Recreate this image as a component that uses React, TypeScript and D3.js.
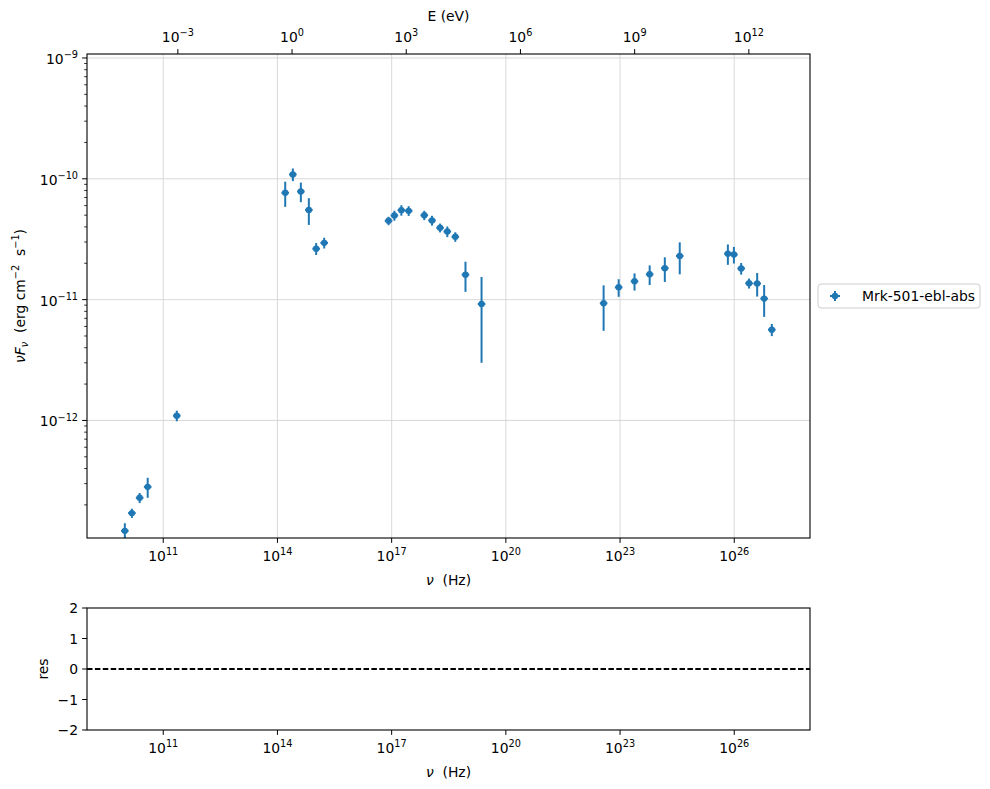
import { useEffect, useRef } from 'react';
import * as d3 from 'd3';

// SED points: frequency (Hz), nuFnu and its symmetric error (erg cm^-2 s^-1)
const nu = [
  9.8e9, 1.5e10, 2.4e10, 3.9e10, 2.27e11,
  1.6e14, 2.54e14, 4.12e14, 6.68e14, 1.04e15, 1.69e15,
  8.3e16, 1.18e17, 1.8e17, 2.8e17, 7.2e17, 1.15e18, 1.87e18, 2.9e18, 4.7e18, 8.7e18, 2.3e19,
  3.7e22, 9.2e22, 2.4e23, 6.0e23, 1.5e24, 3.7e24,
  6.8e25, 9.8e25, 1.52e26, 2.45e26, 4.0e26, 6.1e26, 9.7e26,
];
const nuFnu = [
  1.22e-13, 1.71e-13, 2.29e-13, 2.82e-13, 1.094e-12,
  7.66e-11, 1.087e-10, 7.85e-11, 5.53e-11, 2.64e-11, 2.95e-11,
  4.49e-11, 4.97e-11, 5.5e-11, 5.43e-11, 4.99e-11, 4.52e-11, 3.93e-11, 3.66e-11, 3.31e-11, 1.61e-11, 9.2e-12,
  9.32e-12, 1.265e-11, 1.418e-11, 1.62e-11, 1.82e-11, 2.3e-11,
  2.4e-11, 2.36e-11, 1.81e-11, 1.365e-11, 1.36e-11, 1.02e-11, 5.64e-12,
];
const nuFnuErr = [
  1.9e-14, 1.5e-14, 2.2e-14, 5.3e-14, 1.1e-13,
  1.8e-11, 1.3e-11, 1.45e-11, 1.38e-11, 3.0e-12, 3.0e-12,
  3.6e-12, 4.7e-12, 5.5e-12, 5.0e-12, 4.4e-12, 4.2e-12, 3.3e-12, 3.7e-12, 3.0e-12, 4.5e-12, 6.2e-12,
  3.8e-12, 2.1e-12, 2.3e-12, 3.0e-12, 4.2e-12, 6.8e-12,
  4.6e-12, 3.7e-12, 2.0e-12, 1.3e-12, 3.0e-12, 3.0e-12, 6.5e-13,
];
const NU_ERR_DEX = 0.1; // half-width of frequency bins in dex

const nuTicks = [1e11, 1e14, 1e17, 1e20, 1e23, 1e26];
const eTicks = [1e-3, 1e0, 1e3, 1e6, 1e9, 1e12];
const fluxTicks = [1e-12, 1e-11, 1e-10, 1e-9];
const resTicks = [-2, -1, 0, 1, 2];
const PLANCK_EV_S = 4.135667696e-15;
const SERIES = 'Mrk-501-ebl-abs';

const W = 990;
const H = 789;
const MAIN = { left: 87, right: 810, top: 54, bottom: 538 };
const RES = { left: 87, right: 810, top: 608, bottom: 730 };
const BLUE = '#1f77b4';
const FS = 13.9;
const FONT = '"DejaVu Sans", sans-serif';

function powLabel(sel: any, exp: number) {
  sel.append('tspan').text('10');
  sel
    .append('tspan')
    .attr('font-size', FS * 0.7)
    .attr('dy', -FS * 0.42)
    .text(exp < 0 ? `\u2212${-exp}` : `${exp}`);
}

export default function App() {
  const svgRef = useRef<SVGSVGElement>(null);

  useEffect(() => {
    if (!svgRef.current) return;
    const svg = d3.select(svgRef.current);
    svg.selectAll('*').remove();

    const x = d3
      .scaleLog()
      .domain([10 ** 8.997, 10 ** 27.99])
      .range([MAIN.left, MAIN.right]);
    const xE = d3
      .scaleLog()
      .domain(x.domain().map((v) => v * PLANCK_EV_S))
      .range([MAIN.left, MAIN.right]);
    const y = d3
      .scaleLog()
      .domain([10 ** -12.973, 10 ** -8.967])
      .range([MAIN.bottom, MAIN.top]);
    const yRes = d3.scaleLinear().domain([-2, 2]).range([RES.bottom, RES.top]);

    svg
      .append('defs')
      .append('clipPath')
      .attr('id', 'main-clip')
      .append('rect')
      .attr('x', MAIN.left)
      .attr('y', MAIN.top)
      .attr('width', MAIN.right - MAIN.left)
      .attr('height', MAIN.bottom - MAIN.top);

    // Grid
    const grid = svg.append('g').attr('stroke', '#d5d5d5').attr('stroke-width', 0.9);
    nuTicks.forEach((t) => {
      grid.append('line').attr('x1', x(t)).attr('x2', x(t)).attr('y1', MAIN.top).attr('y2', MAIN.bottom);
    });
    fluxTicks.forEach((t) => {
      grid.append('line').attr('x1', MAIN.left).attr('x2', MAIN.right).attr('y1', y(t)).attr('y2', y(t));
    });

    // Data
    const data = nu.map((v, i) => ({ nu: v, f: nuFnu[i], e: nuFnuErr[i] }));
    const dg = svg.append('g').attr('clip-path', 'url(#main-clip)');
    data.forEach((d) => {
      const cx = x(d.nu);
      const cy = y(d.f);
      dg.append('line')
        .attr('x1', cx)
        .attr('x2', cx)
        .attr('y1', y(d.f + d.e))
        .attr('y2', y(Math.max(d.f - d.e, 1e-20)))
        .attr('stroke', BLUE)
        .attr('stroke-width', 2);
      dg.append('line')
        .attr('x1', x(d.nu / 10 ** NU_ERR_DEX))
        .attr('x2', x(d.nu * 10 ** NU_ERR_DEX))
        .attr('y1', cy)
        .attr('y2', cy)
        .attr('stroke', BLUE)
        .attr('stroke-width', 2);
      dg.append('circle').attr('cx', cx).attr('cy', cy).attr('r', 3.2).attr('fill', BLUE);
    });

    // Spines
    const frame = (r: typeof MAIN) =>
      svg
        .append('rect')
        .attr('x', r.left)
        .attr('y', r.top)
        .attr('width', r.right - r.left)
        .attr('height', r.bottom - r.top)
        .attr('fill', 'none')
        .attr('stroke', '#000')
        .attr('stroke-width', 1.1);
    frame(MAIN);

    const axes = svg.append('g').attr('font-family', FONT).attr('font-size', FS).attr('fill', '#000');
    const tick = (x1: number, y1: number, x2: number, y2: number, w = 1) =>
      axes.append('line').attr('x1', x1).attr('y1', y1).attr('x2', x2).attr('y2', y2).attr('stroke', '#000').attr('stroke-width', w);

    // Bottom axes (main and residual)
    [MAIN.bottom, RES.bottom].forEach((yb) => {
      nuTicks.forEach((t) => {
        tick(x(t), yb, x(t), yb + 4.9);
        const tx = axes.append('text').attr('x', x(t)).attr('y', yb + 23).attr('text-anchor', 'middle');
        powLabel(tx, Math.round(Math.log10(t)));
      });
      const lab = axes
        .append('text')
        .attr('x', (MAIN.left + MAIN.right) / 2)
        .attr('y', yb + 47)
        .attr('text-anchor', 'middle');
      lab.append('tspan').attr('font-style', 'italic').text('\u03bd');
      lab.append('tspan').text('\u00a0\u00a0(Hz)');
    });

    // Top energy axis
    eTicks.forEach((t) => {
      tick(xE(t), MAIN.top, xE(t), MAIN.top - 4.9);
      const tx = axes.append('text').attr('x', xE(t)).attr('y', MAIN.top - 12).attr('text-anchor', 'middle');
      powLabel(tx, Math.round(Math.log10(t)));
    });
    axes
      .append('text')
      .attr('x', (MAIN.left + MAIN.right) / 2)
      .attr('y', 21)
      .attr('text-anchor', 'middle')
      .text('E (eV)');

    // Left flux axis with minor ticks
    const [lo, hi] = y.domain();
    for (let k = Math.floor(Math.log10(lo)); k <= Math.ceil(Math.log10(hi)); k++) {
      for (let m = 2; m <= 9; m++) {
        const v = m * 10 ** k;
        if (v >= lo && v <= hi) tick(MAIN.left, y(v), MAIN.left - 2.8, y(v), 0.8);
      }
    }
    fluxTicks.forEach((t) => {
      tick(MAIN.left, y(t), MAIN.left - 4.9, y(t));
      const tx = axes.append('text').attr('x', MAIN.left - 9).attr('y', y(t) + 6).attr('text-anchor', 'end');
      powLabel(tx, Math.round(Math.log10(t)));
    });

    const yl = axes
      .append('text')
      .attr('transform', `translate(25,${(MAIN.top + MAIN.bottom) / 2}) rotate(-90)`)
      .attr('text-anchor', 'middle');
    yl.append('tspan').attr('font-style', 'italic').text('\u03bdF');
    yl.append('tspan').attr('font-style', 'italic').attr('font-size', FS * 0.7).attr('dy', 3).text('\u03bd');
    yl.append('tspan').attr('dy', -3).text('\u00a0\u00a0(erg\u00a0cm');
    yl.append('tspan').attr('font-size', FS * 0.7).attr('dy', -6).text('\u22122');
    yl.append('tspan').attr('dy', 6).text('\u00a0\u00a0s');
    yl.append('tspan').attr('font-size', FS * 0.7).attr('dy', -6).text('\u22121');
    yl.append('tspan').attr('dy', 6).text(')');

    // Residual panel
    frame(RES);
    svg
      .append('line')
      .attr('x1', RES.left)
      .attr('x2', RES.right)
      .attr('y1', yRes(0))
      .attr('y2', yRes(0))
      .attr('stroke', '#000')
      .attr('stroke-width', 2)
      .attr('stroke-dasharray', '5.5,2.4');
    resTicks.forEach((t) => {
      tick(RES.left, yRes(t), RES.left - 4.9, yRes(t));
      axes
        .append('text')
        .attr('x', RES.left - 9)
        .attr('y', yRes(t) + 5)
        .attr('text-anchor', 'end')
        .text(t < 0 ? `\u2212${-t}` : `${t}`);
    });
    axes
      .append('text')
      .attr('transform', `translate(48,${(RES.top + RES.bottom) / 2}) rotate(-90)`)
      .attr('text-anchor', 'middle')
      .text('res');

    // Legend
    const lg = svg.append('g').attr('transform', 'translate(818,284)');
    lg.append('rect')
      .attr('width', 162)
      .attr('height', 24)
      .attr('rx', 3)
      .attr('fill', '#fff')
      .attr('stroke', '#cccccc')
      .attr('stroke-width', 1);
    lg.append('line').attr('x1', 17).attr('x2', 17).attr('y1', 7).attr('y2', 17).attr('stroke', BLUE).attr('stroke-width', 2);
    lg.append('line').attr('x1', 12).attr('x2', 22).attr('y1', 12).attr('y2', 12).attr('stroke', BLUE).attr('stroke-width', 2);
    lg.append('circle').attr('cx', 17).attr('cy', 12).attr('r', 3.2).attr('fill', BLUE);
    lg.append('text')
      .attr('x', 44)
      .attr('y', 17)
      .attr('font-family', FONT)
      .attr('font-size', FS)
      .text(SERIES);
  }, []);

  return (
    <svg
      ref={svgRef}
      width={W}
      height={H}
      style={{ position: 'absolute', left: 0, top: 0, background: '#fff' }}
    />
  );
}
